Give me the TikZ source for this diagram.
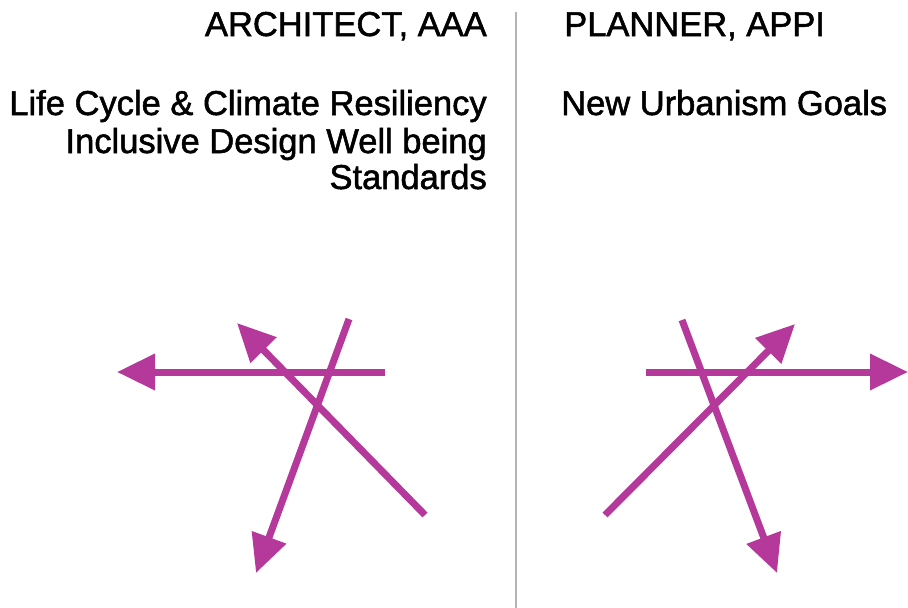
\documentclass[tikz,border=0pt]{standalone}
\usepackage{fontspec}
\setmainfont{Liberation Sans}
\newfontfamily\txtfont{Liberation Sans}[FakeBold=1.5]
\usetikzlibrary{arrows.meta}
\definecolor{mag}{RGB}{181,57,155}
\definecolor{divgray}{RGB}{180,180,180}
\begin{document}
\begin{tikzpicture}[x=1pt,y=-1pt,
  txt/.style={font=\txtfont\fontsize{34.5}{38}\selectfont, inner sep=0pt},
  arr/.style={draw=mag, line width=7pt, -{Triangle[length=38pt,width=35pt]}},
  divider/.style={draw=divgray, line width=2.5pt}]
\useasboundingbox (0,0) rectangle (908,608);
% divider
\coordinate (dtop) at (516,12);
\coordinate (dbot) at (516,608);
\draw[divider] (dtop) -- (dbot);
% texts left
\node[txt, anchor=base east] (arch) at (487,36) {ARCHITECT, AAA};
\node[txt, anchor=base east] (l1) at (487,115) {Life Cycle \& Climate Resiliency};
\node[txt, anchor=base east] (l2) at (487,153) {Inclusive Design Well being};
\node[txt, anchor=base east] (l3) at (487,189) {Standards};
% texts right
\node[txt, anchor=base west] (plan) at (564,36) {PLANNER, APPI};
\node[txt, anchor=base west] (r1) at (561,115) {New Urbanism Goals};
% left arrows
\coordinate (a1s) at (385,372);
\coordinate (a1e) at (117,372);
\coordinate (a2s) at (425,515);
\coordinate (a2e) at (237,323);
\coordinate (a3s) at (349,319);
\coordinate (a3e) at (256,573);
\draw[arr] (a1s) -- (a1e);
\draw[arr] (a2s) -- (a2e);
\draw[arr] (a3s) -- (a3e);
% right arrows
\coordinate (b1s) at (646,372);
\coordinate (b1e) at (908,372);
\coordinate (b2s) at (605,515);
\coordinate (b2e) at (795,324);
\coordinate (b3s) at (682,320);
\coordinate (b3e) at (777,573);
\draw[arr] (b1s) -- (b1e);
\draw[arr] (b2s) -- (b2e);
\draw[arr] (b3s) -- (b3e);
\end{tikzpicture}
\end{document}
